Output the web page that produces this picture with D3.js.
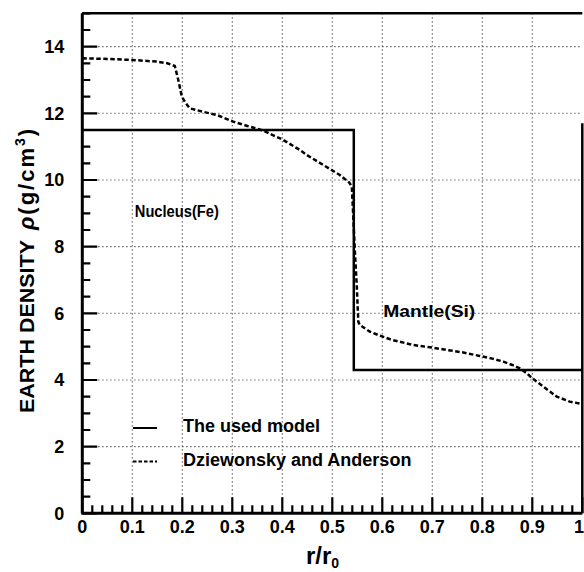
<!DOCTYPE html>
<html>
<head>
<meta charset="utf-8">
<script src="https://cdn.jsdelivr.net/npm/d3@7"></script>
<style>
  html, body { margin: 0; padding: 0; background: #fff; }
  svg { display: block; }
  text { font-family: "Liberation Sans", Arial, sans-serif; font-weight: bold; fill: #000; }
</style>
</head>
<body>
<svg id="chart" width="584" height="572"></svg>
<script>
// ---- data ----
const xTickLabels = ["0", "0.1", "0.2", "0.3", "0.4", "0.5", "0.6", "0.7", "0.8", "0.9", "1"];
const yTickLabels = ["0", "2", "4", "6", "8", "10", "12", "14"];

// The used model (step function)
const modelR   = [0, 0.543, 0.543, 1.0];
const modelRho = [11.5, 11.5, 4.3, 4.3];

// Dziewonsky and Anderson
const prelR   = [0.0, 0.05, 0.10, 0.15, 0.17, 0.185, 0.192, 0.199, 0.207, 0.215, 0.24, 0.269, 0.302, 0.33, 0.362, 0.402, 0.435, 0.449, 0.482, 0.515, 0.534, 0.539, 0.542, 0.545, 0.549, 0.552, 0.555, 0.575, 0.595, 0.62, 0.662, 0.70, 0.729, 0.76, 0.795, 0.82, 0.842, 0.86, 0.875, 0.889, 0.90, 0.922, 0.949, 0.975, 1.0];
const prelRho = [13.65, 13.63, 13.6, 13.55, 13.5, 13.42, 13.0, 12.5, 12.3, 12.15, 12.05, 11.95, 11.75, 11.62, 11.48, 11.2, 10.9, 10.75, 10.45, 10.15, 9.92, 9.8, 8.9, 7.9, 6.8, 5.75, 5.65, 5.45, 5.33, 5.2, 5.05, 4.97, 4.9, 4.83, 4.72, 4.64, 4.55, 4.45, 4.35, 4.2, 4.05, 3.8, 3.5, 3.35, 3.28];

const legendLabels = ["The used model", "Dziewonsky and Anderson"];
const regionLabels = [
  { text: "Nucleus(Fe)", r: 0.105, rho: 8.9, size: 16, len: 84 },
  { text: "Mantle(Si)", r: 0.602, rho: 5.9, size: 17, len: 92 }
];

// ---- layout ----
const svg = d3.select("#chart");
const L = 82.3, R = 582.3, T = 13.3, B = 513.3;
const x = d3.scaleLinear().domain([0, 1]).range([L, R]);
const y = d3.scaleLinear().domain([0, 15]).range([B, T]);

function seg(x1, y1, x2, y2, w, dash, col) {
  const l = svg.append("line").attr("x1", x1).attr("y1", y1).attr("x2", x2).attr("y2", y2)
    .attr("stroke", col || "#000").attr("stroke-width", w);
  if (dash) l.attr("stroke-dasharray", dash);
  return l;
}

// grid (dotted)
d3.range(1, 10).forEach(i => seg(x(i / 10), y(15), x(i / 10), y(0), 1.1, "1.2,2.8", "#444"));
d3.range(2, 15, 2).forEach(v => seg(x(0), y(v), x(1), y(v), 1.1, "1.2,2.8", "#444"));

// frame
seg(x(0), y(15), x(0), y(0), 3);
seg(x(0) - 1, y(0), x(1), y(0), 3);
seg(x(0), y(15), x(1), y(15), 2.5);
seg(x(1), y(11.7), x(1), y(0), 2.5);

// tick labels
svg.append("g").selectAll("text").data(xTickLabels).join("text")
  .attr("x", d => d === "1" ? 584 : x(+d)).attr("y", B + 20)
  .attr("text-anchor", d => d === "1" ? "end" : "middle").attr("font-size", 18).text(d => d);
svg.append("g").selectAll("text").data(yTickLabels).join("text")
  .attr("x", L - 18).attr("y", d => y(+d) + 6.5)
  .attr("text-anchor", "end").attr("font-size", 18).text(d => d);

// curves
const line = d3.line().x(d => x(d[0])).y(d => y(d[1]));
svg.append("path").datum(d3.zip(modelR, modelRho)).attr("d", line)
  .attr("fill", "none").attr("stroke", "#000").attr("stroke-width", 2.5);
svg.append("path").datum(d3.zip(prelR, prelRho)).attr("d", line)
  .attr("fill", "none").attr("stroke", "#000").attr("stroke-width", 2.5)
  .attr("stroke-dasharray", "4.5,2.5");

// region labels
svg.append("g").selectAll("text").data(regionLabels).join("text")
  .attr("x", d => x(d.r)).attr("y", d => y(d.rho))
  .attr("font-size", d => d.size)
  .attr("textLength", d => d.len).attr("lengthAdjust", "spacingAndGlyphs")
  .text(d => d.text);

// legend
[0, 1].forEach(i => {
  const ly = 428 + i * 33.5;
  const ln = svg.append("line").attr("x1", 133).attr("x2", 157).attr("y1", ly).attr("y2", ly)
    .attr("stroke", "#000").attr("stroke-width", 2);
  if (i === 1) ln.attr("stroke-dasharray", "3.5,2");
  svg.append("text").attr("x", 183).attr("y", ly + 4).attr("font-size", 18).text(legendLabels[i]);
});

// axis titles
const xt2 = svg.append("text").attr("x", 306).attr("y", 564).attr("font-size", 24);
xt2.append("tspan").text("r/r");
xt2.append("tspan").attr("font-size", 14).attr("dy", 4).text("0");

const yl = svg.append("g").attr("transform", "translate(34,413) rotate(-90)");
yl.append("text").attr("x", 0).attr("y", 0).attr("font-size", 21)
  .attr("textLength", 173).attr("lengthAdjust", "spacingAndGlyphs").text("EARTH DENSITY");
const yl2 = yl.append("text").attr("x", 183).attr("y", 0).attr("font-size", 22).attr("letter-spacing", 2);
yl2.append("tspan").attr("font-style", "italic").text("ρ");
yl2.append("tspan").text("(g/cm");
yl2.append("tspan").attr("font-size", 14).attr("dy", -9).text("3");
yl2.append("tspan").attr("dy", 9).text(")");

// ticks (inward), drawn last as a single path
let tickD = "";
d3.range(0, 51).forEach(i => {
  const len = i % 5 === 0 ? 16 : 8;
  tickD += `M${x(i / 50).toFixed(1)},${(y(0)).toFixed(1)}L${x(i / 50).toFixed(1)},${(y(0) - len).toFixed(1)}`;
});
d3.range(0, 31).forEach(i => {
  const len = i % 4 === 0 ? 15 : 8;
  tickD += `M${x(0).toFixed(1)},${y(i / 2).toFixed(1)}L${(x(0) + len).toFixed(1)},${y(i / 2).toFixed(1)}`;
});
svg.append("path").attr("d", tickD)
  .attr("fill", "none").attr("stroke", "#000").attr("stroke-width", 2.2);
</script>
</body>
</html>
